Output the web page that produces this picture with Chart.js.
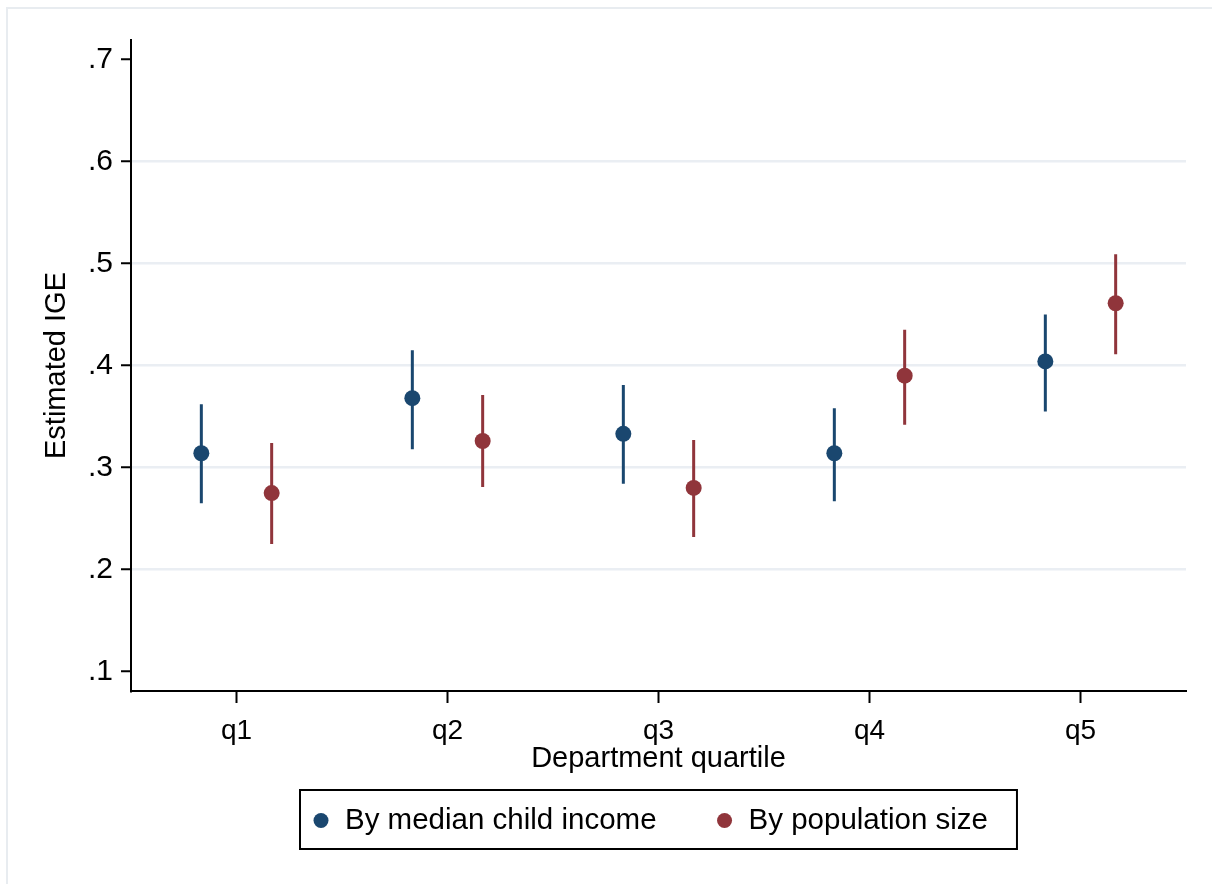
<!DOCTYPE html>
<html>
<head>
<meta charset="utf-8">
<script src="https://cdn.jsdelivr.net/npm/chart.js@4.4.1/dist/chart.umd.min.js"></script>
<style>
  html, body { margin: 0; padding: 0; background: #fff; }
  #wrap { width: 1212px; height: 884px; }
</style>
</head>
<body>
<div id="wrap"><canvas id="igeChart" width="1212" height="884"></canvas></div>
<script>
// quartile categories and the two series (point estimate + 95% CI ends)
var categories = ['q1', 'q2', 'q3', 'q4', 'q5'];
var seriesNames = ['By median child income', 'By population size'];

var incomeEst = [0.314, 0.368, 0.333, 0.314, 0.404];
var incomeLow = [0.265, 0.318, 0.284, 0.267, 0.355];
var incomeHigh = [0.362, 0.415, 0.381, 0.358, 0.450];

var popEst = [0.275, 0.326, 0.280, 0.390, 0.461];
var popLow = [0.225, 0.281, 0.232, 0.342, 0.411];
var popHigh = [0.324, 0.371, 0.327, 0.435, 0.509];

var yTicks = [0.1, 0.2, 0.3, 0.4, 0.5, 0.6, 0.7];
var yTickLabels = ['.1', '.2', '.3', '.4', '.5', '.6', '.7'];

var navy = '#1a476f';
var maroon = '#90353b';
var FONT = '"Liberation Sans", Arial, sans-serif';
var shift = 1 / 6; // dodge of the two series around each quartile

function points(est, off) {
    return est.map(function(v, i) { return {x: i + 1 + off, y: v}; });
}
// vertical segments low->high, separated by gaps
function bars(lo, hi, off) {
    var out = [];
    for (var i = 0; i < lo.length; i++) {
        out.push({x: i + 1 + off, y: lo[i]});
        out.push({x: i + 1 + off, y: hi[i]});
        out.push({x: i + 1 + off, y: null});
    }
    return out;
}

var framePlugin = {
    id: 'frame',
    beforeDraw: function(chart) {
        var ctx = chart.ctx;
        ctx.save();
        ctx.fillStyle = '#fff';
        ctx.fillRect(0, 0, chart.width, chart.height);
        ctx.strokeStyle = '#e8ecf0';
        ctx.lineWidth = 2;
        ctx.beginPath();
        ctx.moveTo(7, chart.height);
        ctx.lineTo(7, 8);
        ctx.lineTo(chart.width, 8);
        ctx.stroke();
        ctx.restore();
    }
};

// boxed legend under the x axis title, centred on the plot region
var boxLegend = {
    id: 'boxLegend',
    afterDraw: function(chart) {
        var ctx = chart.ctx;
        var area = chart.chartArea;
        var items = chart.data.datasets.filter(function(d) { return d.isLegend; });
        ctx.save();
        ctx.font = '29.5px ' + FONT;
        var widths = items.map(function(d) { return ctx.measureText(d.label).width; });
        var padL = 21, padR = 29, toText = 24, between = 68;
        var w = padL + padR;
        widths.forEach(function(tw, i) { w += toText + tw + (i > 0 ? between : 0); });
        var left = Math.round((area.left + area.right) / 2 - w / 2);
        var top = area.bottom + 99, h = 59;
        ctx.strokeStyle = '#000';
        ctx.lineWidth = 2;
        ctx.strokeRect(left, top, w, h);
        var cy = top + h / 2 + 1;
        var x = left + padL;
        items.forEach(function(d, i) {
            if (i > 0) x += between;
            ctx.fillStyle = d.backgroundColor;
            ctx.beginPath();
            ctx.arc(x, cy, 7.5, 0, Math.PI * 2);
            ctx.fill();
            ctx.fillStyle = '#000';
            ctx.textBaseline = 'middle';
            ctx.textAlign = 'left';
            ctx.fillText(d.label, x + toText, cy);
            x += toText + widths[i];
        });
        ctx.restore();
    }
};

var ctx = document.getElementById('igeChart');
var igeChart = new Chart(ctx, {
    type: 'scatter',
    data: {
        datasets: [
            {
                label: seriesNames[0], isLegend: true, order: 0,
                data: points(incomeEst, -shift),
                backgroundColor: navy, borderColor: navy,
                pointRadius: 8, pointBorderWidth: 0, pointHoverRadius: 8
            },
            {
                label: seriesNames[1], isLegend: true, order: 0,
                data: points(popEst, shift),
                backgroundColor: maroon, borderColor: maroon,
                pointRadius: 8, pointBorderWidth: 0, pointHoverRadius: 8
            },
            {
                label: seriesNames[0] + ' CI', order: 1,
                data: bars(incomeLow, incomeHigh, -shift),
                showLine: true, spanGaps: false,
                borderColor: navy, borderWidth: 3, pointRadius: 0, borderCapStyle: 'butt'
            },
            {
                label: seriesNames[1] + ' CI', order: 1,
                data: bars(popLow, popHigh, shift),
                showLine: true, spanGaps: false,
                borderColor: maroon, borderWidth: 3, pointRadius: 0, borderCapStyle: 'butt'
            }
        ]
    },
    options: {
        responsive: false,
        animation: false,
        devicePixelRatio: 1,
        layout: {
            padding: {left: 0, right: 26, top: 40, bottom: 103}
        },
        scales: {
            x: {
                type: 'linear',
                min: 0.5,
                max: 5.5,
                afterBuildTicks: function(scale) {
                    scale.ticks = categories.map(function(c, i) { return {value: i + 1}; });
                },
                afterFit: function(scale) { scale.height = 90; },
                ticks: {
                    color: '#000',
                    font: {family: FONT, size: 28},
                    padding: 11,
                    maxRotation: 0,
                    callback: function(value) { return categories[value - 1]; }
                },
                grid: {
                    drawOnChartArea: false,
                    drawTicks: true,
                    tickLength: 12,
                    tickColor: '#000',
                    tickWidth: 2
                },
                border: {display: true, color: '#000', width: 2},
                title: {
                    display: true,
                    text: 'Department quartile',
                    color: '#000',
                    font: {family: FONT, size: 29},
                    padding: {top: 0, bottom: 5}
                }
            },
            y: {
                type: 'linear',
                min: 0.081,
                max: 0.719,
                afterBuildTicks: function(scale) {
                    scale.ticks = yTicks.map(function(v) { return {value: v}; });
                },
                afterFit: function(scale) { scale.width = 131; },
                ticks: {
                    color: '#000',
                    font: {family: FONT, size: 30},
                    padding: 8,
                    callback: function(value, index) { return yTickLabels[index]; }
                },
                grid: {
                    color: function(c) {
                        if (!c.tick) return 'rgba(0,0,0,0)';
                        var v = c.tick.value;
                        return (v === yTicks[0] || v === yTicks[yTicks.length - 1]) ? 'rgba(0,0,0,0)' : '#eaeef3';
                    },
                    lineWidth: 2.5,
                    tickLength: 10,
                    tickColor: '#000',
                    tickWidth: 2
                },
                border: {display: true, color: '#000', width: 2},
                title: {
                    display: true,
                    text: 'Estimated IGE',
                    color: '#000',
                    font: {family: FONT, size: 29},
                    padding: {top: 40, bottom: 0}
                }
            }
        },
        plugins: {
            legend: {display: false},
            tooltip: {enabled: false}
        }
    },
    plugins: [framePlugin, boxLegend]
});
</script>
</body>
</html>
